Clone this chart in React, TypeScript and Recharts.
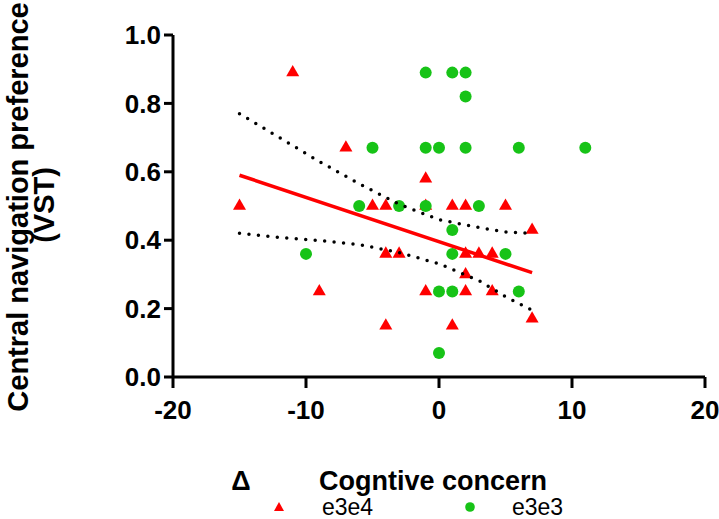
import React from 'react';
import { ScatterChart, Scatter, XAxis, YAxis, Legend } from 'recharts';

// e3e4 group (red triangles): [cognitive concern change, central navigation preference]
const e3e4 = [
  { x: -15, y: 0.5 },
  { x: -11, y: 0.89 },
  { x: -9, y: 0.25 },
  { x: -7, y: 0.67 },
  { x: -5, y: 0.5 },
  { x: -4, y: 0.5 },
  { x: -4, y: 0.36 },
  { x: -3, y: 0.36 },
  { x: -4, y: 0.15 },
  { x: -1, y: 0.58 },
  { x: -1, y: 0.5 },
  { x: -1, y: 0.25 },
  { x: 1, y: 0.5 },
  { x: 2, y: 0.5 },
  { x: 5, y: 0.5 },
  { x: 1, y: 0.15 },
  { x: 2, y: 0.36 },
  { x: 3, y: 0.36 },
  { x: 4, y: 0.36 },
  { x: 2, y: 0.3 },
  { x: 2, y: 0.25 },
  { x: 4, y: 0.25 },
  { x: 7, y: 0.43 },
  { x: 7, y: 0.17 },
];

// e3e3 group (green circles)
const e3e3 = [
  { x: -1, y: 0.89 },
  { x: 1, y: 0.89 },
  { x: 2, y: 0.89 },
  { x: 2, y: 0.82 },
  { x: -5, y: 0.67 },
  { x: -1, y: 0.67 },
  { x: 0, y: 0.67 },
  { x: 2, y: 0.67 },
  { x: 6, y: 0.67 },
  { x: 11, y: 0.67 },
  { x: -6, y: 0.5 },
  { x: -3, y: 0.5 },
  { x: -1, y: 0.5 },
  { x: 3, y: 0.5 },
  { x: -10, y: 0.36 },
  { x: 1, y: 0.43 },
  { x: 1, y: 0.36 },
  { x: 5, y: 0.36 },
  { x: 0, y: 0.25 },
  { x: 1, y: 0.25 },
  { x: 6, y: 0.25 },
  { x: 0, y: 0.07 },
];

// e3e4 regression line and its 95% confidence band
const fitLine = [
  { x: -15, y: 0.59 },
  { x: 7, y: 0.305 },
];
const bandX = [-15, -12, -9, -6, -3, 0, 3, 5, 7];
const bandUpper = [0.77, 0.7, 0.63, 0.565, 0.505, 0.46, 0.437, 0.424, 0.42];
const bandLower = [0.42, 0.408, 0.399, 0.387, 0.364, 0.331, 0.282, 0.235, 0.195];

const xTicks = [-20, -10, 0, 10, 20];
const yTicks = [0, 0.2, 0.4, 0.6, 0.8, 1.0];

const RED = '#ff0000';
const GREEN = '#17c317';
const FONT = '"Liberation Sans", Arial, Helvetica, sans-serif';

const upperData = bandX.map((x, i) => ({ x, y: bandUpper[i] }));
const lowerData = bandX.map((x, i) => ({ x, y: bandLower[i] }));

const Triangle = (props: any) => {
  const { cx, cy } = props;
  const s = 13;
  const h = s * 0.866;
  return (
    <polygon
      points={`${cx},${cy - (2 * h) / 3} ${cx + s / 2},${cy + h / 3} ${cx - s / 2},${cy + h / 3}`}
      fill={RED}
    />
  );
};

const Dot = (props: any) => <circle cx={props.cx} cy={props.cy} r={6} fill={GREEN} />;

const NoShape = () => <g />;

const axisStyle = { stroke: '#000', strokeWidth: 3 };
const tickStyle = { fill: '#000', fontSize: 26, fontWeight: 'bold', fontFamily: FONT };
const dotted = { stroke: '#000', strokeWidth: 3.5, strokeDasharray: '0 9.5', strokeLinecap: 'round' as const };

const LegendContent = () => (
  <div style={{ display: 'flex', alignItems: 'center', fontFamily: FONT, fontSize: 23, color: '#000', lineHeight: '22px' }}>
    <svg width={10} height={10} style={{ marginRight: 38 }}>
      <polygon points="5,0 10,9 0,9" fill={RED} />
    </svg>
    <span style={{ display: 'inline-block', width: 143 }}>e3e4</span>
    <svg width={10} height={10} style={{ marginRight: 37 }}>
      <circle cx={5} cy={5} r={4.8} fill={GREEN} />
    </svg>
    <span>e3e3</span>
  </div>
);

const App: React.FC = () => {
  return (
    <div style={{ position: 'absolute', left: 0, top: 0, background: '#fff' }}>
      <ScatterChart width={719} height={519} margin={{ top: 35, right: 14, bottom: 0, left: 0 }}>
        <XAxis
          type="number"
          dataKey="x"
          domain={[-20, 20]}
          ticks={xTicks}
          height={142}
          tickSize={11}
          tickMargin={13}
          axisLine={axisStyle}
          tickLine={axisStyle}
          tick={tickStyle}
          label={{
            content: () => (
              <g style={{ fontFamily: FONT, fontWeight: 'bold', fontSize: 27 }} fill="#000">
                <text x={241} y={490} textAnchor="middle">Δ</text>
                <text x={319} y={490} textAnchor="start">Cogntive concern</text>
              </g>
            ),
          }}
        />
        <YAxis
          type="number"
          dataKey="y"
          domain={[0, 1]}
          ticks={yTicks}
          width={173}
          tickSize={9}
          tickMargin={3}
          tickFormatter={(v: number) => v.toFixed(1)}
          axisLine={axisStyle}
          tickLine={axisStyle}
          tick={tickStyle}
          label={{
            content: () => (
              <g style={{ fontFamily: FONT, fontWeight: 'bold', fontSize: 29 }} fill="#000">
                <text x={28} y={207} textAnchor="middle" transform="rotate(-90 28 207)">
                  Central navigation preference
                </text>
                <text x={54} y={205} textAnchor="middle" transform="rotate(-90 54 205)">
                  (VST)
                </text>
              </g>
            ),
          }}
        />
        <Legend
          layout="horizontal"
          verticalAlign="middle"
          content={LegendContent}
          wrapperStyle={{ left: 274, top: 496, width: 340 }}
        />
        <Scatter name="e3e4" data={e3e4} shape={Triangle} isAnimationActive={false} />
        <Scatter name="e3e3" data={e3e3} shape={Dot} isAnimationActive={false} />
        <Scatter data={upperData} shape={NoShape} line={dotted} legendType="none" isAnimationActive={false} />
        <Scatter data={lowerData} shape={NoShape} line={dotted} legendType="none" isAnimationActive={false} />
        <Scatter
          data={fitLine}
          shape={NoShape}
          line={{ stroke: RED, strokeWidth: 3.5 }}
          legendType="none"
          isAnimationActive={false}
        />
      </ScatterChart>
    </div>
  );
};

export default App;
